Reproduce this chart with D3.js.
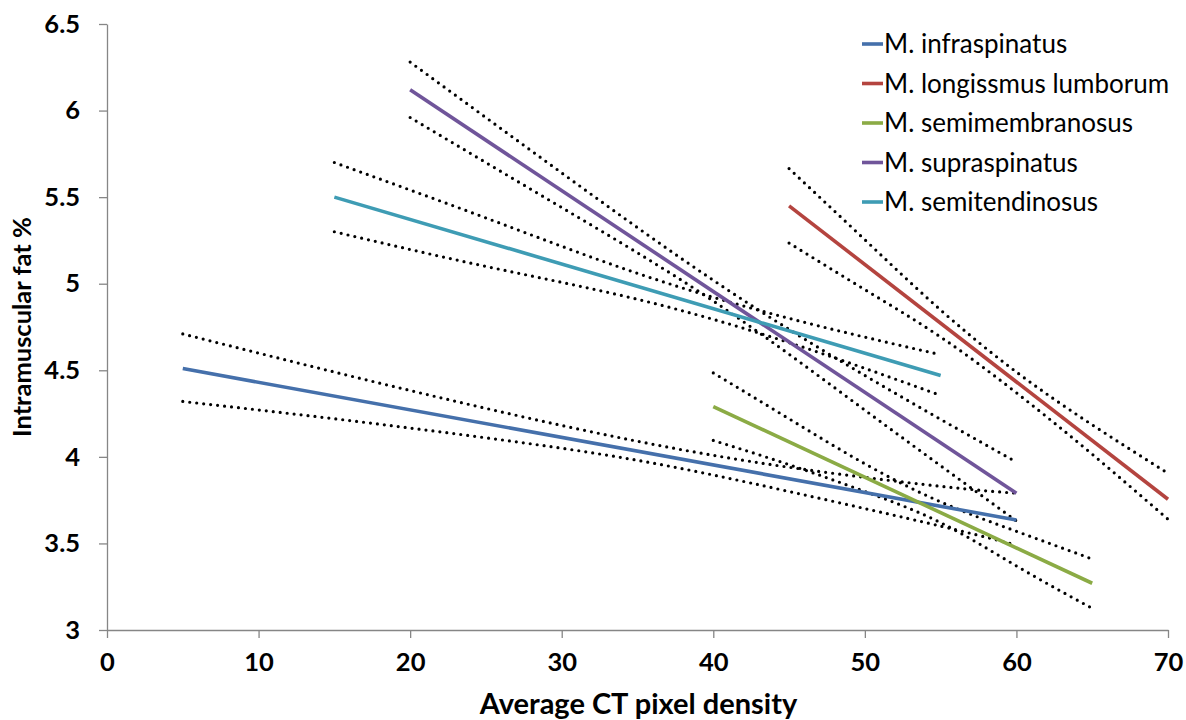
<!DOCTYPE html>
<html>
<head>
<meta charset="utf-8">
<script src="https://cdn.jsdelivr.net/npm/d3@7"></script>
<style>
  body { margin: 0; background: #fff; }
  svg { font-family: Lato, "Open Sans", sans-serif; }
  .tick text { font-weight: bold; font-size: 25.5px; fill: #000; }
  .axis path, .axis line { stroke: #868686; stroke-width: 1.3; }
</style>
</head>
<body>
<div id="chart"></div>
<script>
// muscle names and colours (legend order)
const muscles = ["M. infraspinatus", "M. longissmus lumborum", "M. semimembranosus", "M. supraspinatus", "M. semitendinosus"];
const colours = ["#4570AB", "#B4443F", "#8BAB45", "#70559A", "#3E9CB4"];

// fitted line end points [x0, y0, x1, y1]
const fitInfra = [5, 4.51, 60, 3.635];
const fitLongis = [45, 5.45, 70, 3.755];
const fitSemimem = [40, 4.29, 65, 3.27];
const fitSupra = [20, 6.12, 60, 3.79];
const fitSemiten = [15, 5.50, 55, 4.47];

// confidence band: x, lower, upper
const bandInfraX = [5, 15, 25, 35, 45, 55, 60];
const bandInfraLo = [4.32, 4.22, 4.11, 3.98, 3.80, 3.60, 3.49];
const bandInfraHi = [4.71, 4.49, 4.28, 4.09, 3.94, 3.83, 3.79];

const bandLongisX = [45, 50, 55, 60, 65, 70];
const bandLongisLo = [5.235, 4.966, 4.692, 4.37, 4.015, 3.64];
const bandLongisHi = [5.665, 5.254, 4.848, 4.49, 4.185, 3.905];

const bandSemimemX = [40, 45, 50, 55, 60, 65];
const bandSemimemLo = [4.095, 3.955, 3.80, 3.62, 3.37, 3.125];
const bandSemimemHi = [4.485, 4.22, 3.96, 3.74, 3.57, 3.41];

const bandSupraX = [20, 30, 40, 50, 60];
const bandSupraLo = [5.96, 5.44, 4.90, 4.27, 3.63];
const bandSupraHi = [6.28, 5.64, 5.02, 4.47, 3.97];

const bandSemitenX = [15, 25, 35, 45, 55];
const bandSemitenLo = [5.30, 5.10, 4.91, 4.66, 4.355];
const bandSemitenHi = [5.70, 5.38, 5.06, 4.80, 4.59];

const xTicks = [0, 10, 20, 30, 40, 50, 60, 70];
const yTicks = [3, 3.5, 4, 4.5, 5, 5.5, 6, 6.5];

const fits = [fitInfra, fitLongis, fitSemimem, fitSupra, fitSemiten];
const bands = [
  [bandInfraX, bandInfraLo, bandInfraHi],
  [bandLongisX, bandLongisLo, bandLongisHi],
  [bandSemimemX, bandSemimemLo, bandSemimemHi],
  [bandSupraX, bandSupraLo, bandSupraHi],
  [bandSemitenX, bandSemitenLo, bandSemitenHi]
];

const width = 1186;
const height = 720;
const margin = { top: 24, right: 18, bottom: 90, left: 107 };

const svg = d3.select("#chart").append("svg")
  .attr("width", width)
  .attr("height", height);

const x = d3.scaleLinear().domain([0, 70]).range([margin.left, width - margin.right]);
const y = d3.scaleLinear().domain([3, 6.5]).range([height - margin.bottom, margin.top]);

// axes
svg.append("g")
  .attr("class", "axis")
  .attr("transform", `translate(0,${height - margin.bottom})`)
  .call(d3.axisBottom(x).tickValues(xTicks).tickSize(8).tickPadding(10).tickSizeOuter(0))
  .call(g => g.selectAll(".tick text").attr("dy", "0.9em"));

svg.append("g")
  .attr("class", "axis")
  .attr("transform", `translate(${margin.left},0)`)
  .call(d3.axisLeft(y).tickValues(yTicks).tickSize(8).tickPadding(19).tickSizeOuter(0).tickFormat(d3.format("")));

svg.selectAll(".tick text").style("font-family", "Lato, sans-serif");

// axis titles
svg.append("text")
  .attr("x", (x(0) + x(70)) / 2 + 1)
  .attr("y", 714)
  .attr("text-anchor", "middle")
  .style("font-size", "29px")
  .style("font-weight", "bold")
  .text("Average CT pixel density");

svg.append("text")
  .attr("transform", `translate(31,${(y(3) + y(6.5)) / 2}) rotate(-90)`)
  .attr("text-anchor", "middle")
  .style("font-size", "25.5px")
  .style("font-weight", "bold")
  .text("Intramuscular fat %");

// dotted confidence bands
const bandLine = d3.line()
  .x(d => x(d[0]))
  .y(d => y(d[1]))
  .curve(d3.curveNatural);

bands.forEach(b => {
  [b[1], b[2]].forEach(vals => {
    svg.append("path")
      .attr("d", bandLine(b[0].map((xv, i) => [xv, vals[i]])))
      .attr("fill", "none")
      .attr("stroke", "#000")
      .attr("stroke-width", 3.2)
      .attr("stroke-linecap", "round")
      .attr("stroke-dasharray", "0 7");
  });
});

// fitted lines
fits.forEach((f, i) => {
  svg.append("line")
    .attr("x1", x(f[0]))
    .attr("y1", y(f[1]))
    .attr("x2", x(f[2]))
    .attr("y2", y(f[3]))
    .attr("stroke", colours[i])
    .attr("stroke-width", 3.6);
});

// legend
const legend = svg.append("g").attr("transform", "translate(862,44)");
muscles.forEach((m, i) => {
  const row = legend.append("g").attr("transform", `translate(0,${i * 39.5})`);
  row.append("line")
    .attr("x1", 0).attr("x2", 21)
    .attr("stroke", colours[i])
    .attr("stroke-width", 3.6);
  row.append("text")
    .attr("x", 22)
    .attr("dy", "0.36em")
    .style("font-size", "26px")
    .text(m);
});
</script>
</body>
</html>
